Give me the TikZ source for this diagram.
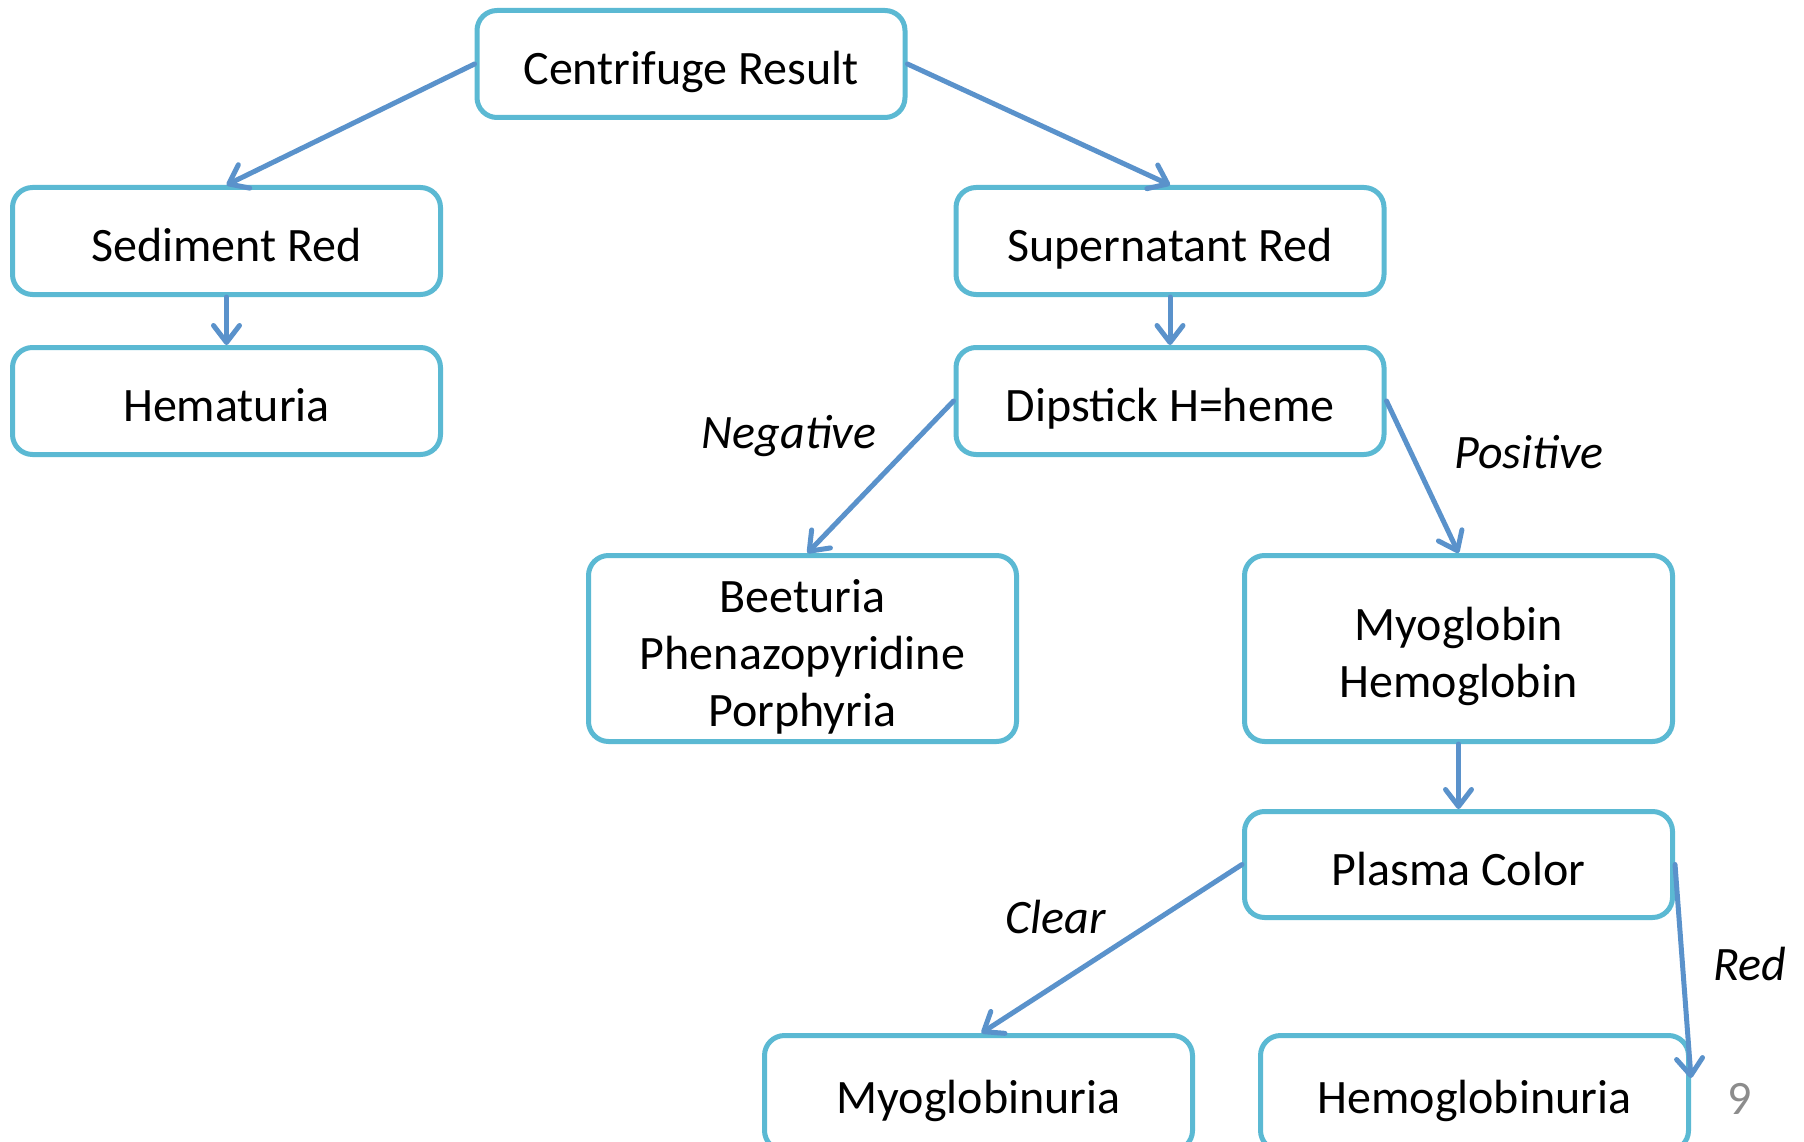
\documentclass[tikz,border=0pt]{standalone}
\usepackage{fontspec}
\setmainfont{Carlito}
\usetikzlibrary{arrows.meta,calc}
\definecolor{boxc}{HTML}{5BB9D3}
\definecolor{arrc}{HTML}{5A92CB}
\definecolor{numc}{HTML}{8C8C8C}
\tikzset{
  fbox/.style={draw=boxc, line width=5pt, rounded corners=20pt, fill=white,
    minimum width=428pt, inner sep=0pt},
  btext/.style={font=\fontsize{48}{57}\selectfont, align=center, text depth=0pt,
    inner sep=0pt, yshift=-4pt},
  conn/.style={draw=arrc, line width=5pt, line cap=round,
    -{Straight Barb[length=17pt,width=26pt,line width=5pt,round]}},
  lbl/.style={font=\fontsize{48}{57}\selectfont\itshape, inner sep=0pt}
}
\begin{document}
\begin{tikzpicture}[x=1pt,y=-1pt]
\useasboundingbox (0,0) rectangle (1804,1142);
\clip (0,0) rectangle (1804,1142);
\node[fbox, minimum height=107pt, label={[btext]center:Centrifuge Result}] (cent) at (691,64) {};
\node[fbox, minimum height=107pt, label={[btext]center:Sediment Red}] (sed) at (226.5,241) {};
\node[fbox, minimum height=107pt, label={[btext]center:Hematuria}] (hem) at (226.5,401) {};
\node[fbox, minimum height=107pt, label={[btext]center:Supernatant Red}] (sup) at (1170,241) {};
\node[fbox, minimum height=107pt, label={[btext]center:Dipstick H=heme}] (dip) at (1170,401) {};
\node[fbox, minimum height=186pt, label={[btext]center:Beeturia\\Phenazopyridine\\Porphyria}] (beet) at (802.5,648.5) {};
\node[fbox, minimum height=186pt, label={[btext]center:Myoglobin\\Hemoglobin}] (myo) at (1458.5,648.5) {};
\node[fbox, minimum height=106pt, label={[btext]center:Plasma Color}] (plas) at (1458.5,864.5) {};
\node[fbox, minimum height=115pt, label={[btext]center:Myoglobinuria}] (myou) at (978.5,1093) {};
\node[fbox, minimum height=115pt, label={[btext]center:Hemoglobinuria}] (hemou) at (1474.5,1093) {};
\coordinate (hemoend) at ($(hemou.north east)+(0,45)$);

\draw[conn] (cent.west) -- (sed.north);
\draw[conn] (cent.east) -- (sup.north);
\draw[conn] (sed.south) -- (hem.north);
\draw[conn] (sup.south) -- (dip.north);
\draw[conn] (dip.west) -- ($(beet.north)+(5,0)$);
\draw[conn] (dip.east) -- (myo.north);
\draw[conn] (myo.south) -- (plas.north);
\draw[conn] (plas.west) -- ($(myou.north)+(3,0)$);
\draw[conn] (plas.east) -- (hemoend);

\node[lbl] (neg) at (789,436) {Negative};
\node[lbl] (pos) at (1529,452) {Positive};
\node[lbl] (clr) at (1056,917) {Clear};
\node[lbl] (red) at (1750,964) {Red};
\node[font=\fontsize{48}{57}\selectfont, text=numc, inner sep=0pt] (num) at (1740,1099) {9};
\end{tikzpicture}
\end{document}
